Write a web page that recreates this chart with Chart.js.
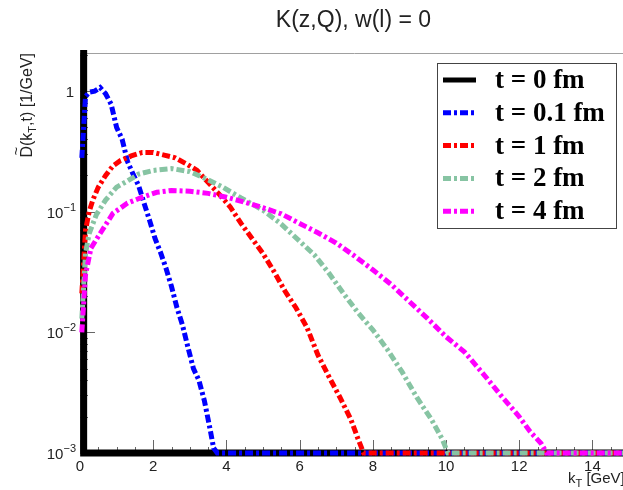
<!DOCTYPE html>
<html>
<head>
<meta charset="utf-8">
<script src="https://cdn.jsdelivr.net/npm/chart.js@4.4.1/dist/chart.umd.min.js"></script>
<style>
  html, body { margin: 0; padding: 0; background: #fff; overflow: hidden; }
  #wrap { width: 623px; height: 490px; overflow: hidden; }
  canvas { display: block; }
</style>
</head>
<body>
<div id="wrap"><canvas id="chart" width="640" height="490"></canvas></div>
<script>
// ===== Data =====
const kT_t0  = [0.1, 0.1, 15];
const D_t0   = [30, 0.001, 0.001];

const kT_t01 = [0.05, 0.15, 0.25, 0.4, 0.55, 0.7, 0.85, 1.0, 1.15, 1.3, 1.45, 1.6, 1.75, 1.9, 2.05,
                2.2, 2.35, 2.5, 2.65, 2.8, 2.95, 3.1, 3.25, 3.4, 3.55, 3.65, 3.75, 15];
const D_t01  = [0.28, 0.9, 0.98, 1.0, 1.07, 0.95, 0.78, 0.5, 0.4, 0.26, 0.205, 0.165, 0.118, 0.085, 0.06,
                0.046, 0.034, 0.024, 0.016, 0.0115, 0.0075, 0.005, 0.004, 0.0027, 0.0016, 0.0011, 0.001, 0.001];

const kT_t1  = [0.05, 0.15, 0.25, 0.35, 0.5, 0.7, 0.9, 1.1, 1.4, 1.7, 2.0, 2.3, 2.6, 2.9, 3.2, 3.5, 3.8,
                4.1, 4.4, 4.7, 5.0, 5.3, 5.6, 5.9, 6.2, 6.5, 6.8, 7.1, 7.4, 7.6, 7.75, 15];
const D_t1   = [0.021, 0.07, 0.1, 0.125, 0.16, 0.2, 0.24, 0.265, 0.29, 0.31, 0.31, 0.295, 0.28, 0.25, 0.22, 0.175, 0.14,
                0.11, 0.08, 0.06, 0.045, 0.032, 0.022, 0.016, 0.011, 0.0065, 0.0043, 0.0029, 0.0019, 0.0013, 0.001, 0.001];

const kT_t2  = [0.05, 0.15, 0.25, 0.45, 0.7, 1.0, 1.3, 1.6, 2.0, 2.5, 3.0, 3.4, 3.9, 4.4, 5.0, 5.5, 6.0,
                6.4, 6.8, 7.2, 7.6, 8.0, 8.4, 8.8, 9.2, 9.6, 9.9, 10.05, 15];
const D_t2   = [0.013, 0.045, 0.066, 0.095, 0.125, 0.16, 0.18, 0.205, 0.22, 0.228, 0.215, 0.19, 0.16, 0.13, 0.103, 0.079, 0.057,
                0.044, 0.031, 0.021, 0.0145, 0.0105, 0.0072, 0.0047, 0.0029, 0.0019, 0.0013, 0.001, 0.001];

const kT_t4  = [0.05, 0.15, 0.3, 0.55, 0.9, 1.3, 1.7, 2.1, 2.5, 3.0, 3.5, 4.0, 4.5, 5.0, 5.5, 6.0, 6.5,
                7.0, 7.5, 8.0, 8.5, 9.0, 9.5, 10.0, 10.5, 11.0, 11.5, 12.0, 12.3, 12.6, 12.75, 15];
const D_t4   = [0.01, 0.03, 0.05, 0.066, 0.097, 0.118, 0.132, 0.145, 0.15, 0.148, 0.142, 0.132, 0.12, 0.108, 0.096, 0.08, 0.067,
                0.055, 0.043, 0.033, 0.025, 0.018, 0.013, 0.0092, 0.0069, 0.0046, 0.003, 0.002, 0.0015, 0.0012, 0.001, 0.001];

const seriesLabels = ['t = 0 fm', 't = 0.1 fm', 't = 1 fm', 't = 2 fm', 't = 4 fm'];
const seriesColors = ['#000000', '#0000ff', '#ff0000', '#87c4a3', '#ff00ff'];

const xTicks      = [0, 2, 4, 6, 8, 10, 12, 14];
const yTicks      = [0.001, 0.01, 0.1, 1];
const yTickLabels = [['10', '\u22123'], ['10', '\u22122'], ['10', '\u22121'], ['1', '']];

const titleText = 'K(z,Q), w(l) = 0';

// ===== Helpers =====
const $ = id => document.getElementById(id);
const SANS  = '"Liberation Sans", Arial, sans-serif';
const SERIF = '"Liberation Serif", "Times New Roman", serif';
const DASH  = [8, 3, 3, 3];

const series = [
  { x: kT_t0,  y: D_t0,  width: 7, dash: [] },
  { x: kT_t01, y: D_t01, width: 5, dash: DASH },
  { x: kT_t1,  y: D_t1,  width: 5, dash: DASH },
  { x: kT_t2,  y: D_t2,  width: 5, dash: DASH },
  { x: kT_t4,  y: D_t4,  width: 5, dash: DASH },
];

// draw text made of pieces (for subscripts), returns end x
function drawPieces(ctx, pieces, x0, y0) {
  let x = x0;
  pieces.forEach(p => {
    ctx.font = `${p.size}px ${SANS}`;
    ctx.fillText(p.t, x, y0 + (p.dy || 0));
    x += ctx.measureText(p.t).width;
  });
  return x;
}
function piecesWidth(ctx, pieces) {
  return pieces.reduce((w, p) => {
    ctx.font = `${p.size}px ${SANS}`;
    return w + ctx.measureText(p.t).width;
  }, 0);
}

// ===== Decorations: frame, ROOT-style ticks, texts, legend =====
const decor = {
  id: 'decor',
  beforeDatasetsDraw(chart) {
    const { ctx, chartArea: a, scales: { x, y } } = chart;
    ctx.save();
    ctx.strokeStyle = '#a0a0a0';
    ctx.lineWidth = 1;
    ctx.beginPath();
    ctx.moveTo(a.left, a.top + 0.5);
    ctx.lineTo(a.right, a.top + 0.5);
    ctx.stroke();

    // x ticks (inward)
    ctx.strokeStyle = '#666';
    for (let v = 0; v <= 15; v += 0.5) {
      const px = Math.round(x.getPixelForValue(v)) + 0.5;
      const len = v % 2 === 0 ? 13 : 6;
      ctx.beginPath();
      ctx.moveTo(px, a.bottom);
      ctx.lineTo(px, a.bottom - len);
      ctx.stroke();
    }
    // y ticks (inward), log minors
    for (let e = -3; e <= 0; e++) {
      for (let m = 1; m <= 9; m++) {
        const v = m * Math.pow(10, e);
        if (v > y.max) break;
        const py = Math.round(y.getPixelForValue(v)) + 0.5;
        const len = m === 1 ? 15 : 8;
        ctx.beginPath();
        ctx.moveTo(a.left, py);
        ctx.lineTo(a.left + len, py);
        ctx.stroke();
      }
    }
    ctx.restore();
  },
  afterDraw(chart) {
    const { ctx, chartArea: a, scales: { y } } = chart;
    ctx.save();
    ctx.fillStyle = '#222';
    ctx.textBaseline = 'alphabetic';

    // y tick labels with exponents
    yTicks.forEach((v, i) => {
      const py = y.getPixelForValue(v);
      const [base, exp] = yTickLabels[i];
      ctx.font = `11px ${SANS}`;
      const wExp = exp ? ctx.measureText(exp).width : 0;
      ctx.font = `15px ${SANS}`;
      const wBase = ctx.measureText(base).width;
      const right = exp ? 76 : 74;
      ctx.fillText(base, right - wExp - wBase, py + 6);
      if (exp) {
        ctx.font = `11px ${SANS}`;
        ctx.fillText(exp, right - wExp, py - 1);
      }
    });

    // title
    ctx.font = `23px ${SANS}`;
    ctx.textAlign = 'center';
    ctx.fillText(titleText, 353.5, 27);
    ctx.textAlign = 'left';

    // x title: k_T [GeV]
    drawPieces(ctx, [
      { t: 'k', size: 15 },
      { t: 'T', size: 11, dy: 4 },
      { t: ' [GeV]', size: 15 },
    ], 568, 483);

    // y title: D~(k_T,t) [1/GeV], rotated
    const yPieces = [
      { t: 'D', size: 16 },
      { t: '(k', size: 16 },
      { t: 'T', size: 11, dy: 4 },
      { t: ',t) [1/GeV]', size: 16 },
    ];
    const total = piecesWidth(ctx, yPieces);
    ctx.translate(32, a.top);
    ctx.rotate(-Math.PI / 2);
    const start = -total;
    drawPieces(ctx, yPieces, start, 0);
    ctx.font = `15px ${SANS}`;
    ctx.fillText('~', start + 2, -11);
    ctx.restore();

    // legend
    ctx.save();
    ctx.fillStyle = '#fff';
    ctx.fillRect(437, 63, 179, 165);
    ctx.strokeStyle = '#444';
    ctx.lineWidth = 1;
    ctx.strokeRect(437.5, 63.5, 179, 165);
    seriesLabels.forEach((label, i) => {
      const ry = 80 + i * 32.8;
      ctx.strokeStyle = seriesColors[i];
      ctx.lineWidth = 5;
      ctx.setLineDash(series[i].dash);
      ctx.beginPath();
      ctx.moveTo(443, ry);
      ctx.lineTo(476, ry);
      ctx.stroke();
      ctx.setLineDash([]);
      ctx.fillStyle = '#000';
      ctx.font = `bold 27px ${SERIF}`;
      ctx.textBaseline = 'middle';
      ctx.fillText(label, 495, ry + 1);
    });
    ctx.restore();
  },
};

// ===== Chart =====
const chart = new Chart($('chart'), {
  type: 'line',
  data: {
    datasets: series.map((s, i) => ({
      label: seriesLabels[i],
      data: s.x.map((v, j) => ({ x: v, y: s.y[j] })),
      borderColor: seriesColors[i],
      borderWidth: s.width,
      borderDash: s.dash,
      borderCapStyle: 'butt',
      pointRadius: 0,
      fill: false,
      tension: 0,
      clip: { left: 5, top: 3, right: 0, bottom: 5 },
      order: 5 - i,
    })),
  },
  options: {
    responsive: false,
    animation: false,
    layout: { padding: { top: 53, right: 11, left: 0, bottom: 0 } },
    plugins: {
      legend:  { display: false },
      tooltip: { enabled: false },
      title:   { display: false },
    },
    scales: {
      x: {
        type: 'linear', min: 0, max: 15,
        afterBuildTicks: s => { s.ticks = xTicks.map(v => ({ value: v })); },
        afterFit: s => { s.height = 37; },
        grid: { display: false, drawTicks: false },
        border: { color: '#999' },
        ticks: { font: { family: SANS, size: 15 }, color: '#222', padding: 5, maxRotation: 0, autoSkip: false },
      },
      y: {
        type: 'logarithmic', min: 0.001, max: 2.07,
        afterBuildTicks: s => { s.ticks = yTicks.map(v => ({ value: v })); },
        afterFit: s => { s.width = 80; },
        grid: { display: false, drawTicks: false },
        border: { color: '#999' },
        ticks: { display: false },
      },
    },
  },
  plugins: [decor],
});
</script>
</body>
</html>
